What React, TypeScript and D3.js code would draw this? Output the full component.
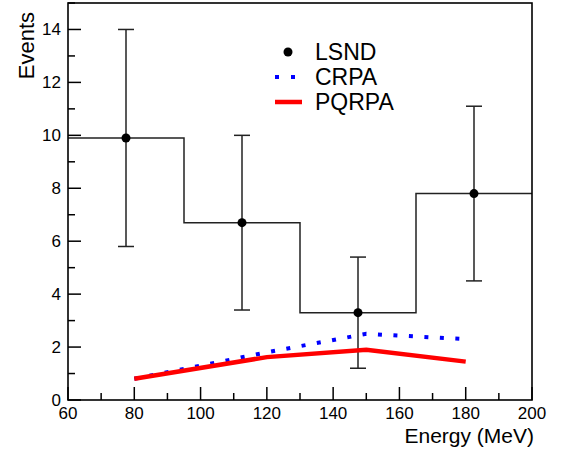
import React, { useEffect, useRef } from "react";
import * as d3 from "d3";

const binEdges = [60, 95, 130, 165, 200];
const lsndCounts = [9.9, 6.7, 3.3, 7.8];
const lsndLow = [5.8, 3.4, 1.2, 4.5];
const lsndHigh = [14, 10, 5.4, 11.1];

const crpaEnergy = [80, 120, 150, 180];
const crpaEvents = [0.8, 1.8, 2.5, 2.3];
const pqrpaEnergy = [80, 120, 150, 180];
const pqrpaEvents = [0.8, 1.62, 1.9, 1.45];

const xTicks = [60, 80, 100, 120, 140, 160, 180, 200];
const yTicks = [0, 2, 4, 6, 8, 10, 12, 14];
const legendLabels = ["LSND", "CRPA", "PQRPA"];

const FONT = "'Liberation Sans', Arial, Helvetica, sans-serif";

export default function App() {
  const svgRef = useRef<SVGSVGElement>(null);
  const width = 570;
  const height = 453;

  useEffect(() => {
    const svg = d3.select(svgRef.current);
    svg.selectAll("*").remove();

    const margin = { top: 3, right: 38, bottom: 53, left: 68 };

    const x = d3
      .scaleLinear()
      .domain([60, 200])
      .range([margin.left, width - margin.right]);
    const y = d3
      .scaleLinear()
      .domain([0, 15])
      .range([height - margin.bottom, margin.top]);

    const x0 = x.range()[0];
    const x1 = x.range()[1];
    const y0 = y.range()[0];
    const y1 = y.range()[1];

    // histogram outline
    const steps: [number, number][] = [];
    lsndCounts.forEach((c, i) => {
      steps.push([binEdges[i], c]);
      steps.push([binEdges[i + 1], c]);
    });
    svg
      .append("path")
      .attr(
        "d",
        d3
          .line<[number, number]>()
          .x((d) => x(d[0]))
          .y((d) => y(d[1]))(steps)
      )
      .attr("fill", "none")
      .attr("stroke", "#222")
      .attr("stroke-width", 1.5);

    // error bars
    const centers = lsndCounts.map((_, i) => (binEdges[i] + binEdges[i + 1]) / 2);
    const eb = svg.append("g").attr("stroke", "#222").attr("stroke-width", 1.5);
    centers.forEach((c, i) => {
      const cx = x(c);
      eb.append("line")
        .attr("x1", cx)
        .attr("x2", cx)
        .attr("y1", y(lsndLow[i]))
        .attr("y2", y(lsndHigh[i]));
      [lsndLow[i], lsndHigh[i]].forEach((v) => {
        eb.append("line")
          .attr("x1", cx - 8)
          .attr("x2", cx + 8)
          .attr("y1", y(v))
          .attr("y2", y(v));
      });
    });
    svg
      .append("g")
      .selectAll("circle")
      .data(centers)
      .join("circle")
      .attr("cx", (d) => x(d))
      .attr("cy", (_, i) => y(lsndCounts[i]))
      .attr("r", 4.5)
      .attr("fill", "#000");

    // model curves
    const crpaPts = crpaEnergy.map((e, i) => [x(e), y(crpaEvents[i])] as [number, number]);
    const pqrpaPts = pqrpaEnergy.map((e, i) => [x(e), y(pqrpaEvents[i])] as [number, number]);

    svg
      .append("path")
      .attr("d", d3.line()(crpaPts))
      .attr("fill", "none")
      .attr("stroke", "#0000ff")
      .attr("stroke-width", 4)
      .attr("stroke-dasharray", "4,11.5");

    svg
      .append("path")
      .attr("d", d3.line()(pqrpaPts))
      .attr("fill", "none")
      .attr("stroke", "#ff0000")
      .attr("stroke-width", 4.5);

    // frame
    svg
      .append("rect")
      .attr("x", x0)
      .attr("y", y1)
      .attr("width", x1 - x0)
      .attr("height", y0 - y1)
      .attr("fill", "none")
      .attr("stroke", "#000")
      .attr("stroke-width", 1.6);

    // ticks
    const tickG = svg.append("g").attr("stroke", "#000").attr("stroke-width", 1.5);
    d3.range(60, 201, 10).forEach((v) => {
      const len = v % 20 === 0 ? 13 : 7;
      tickG
        .append("line")
        .attr("x1", x(v))
        .attr("x2", x(v))
        .attr("y1", y0)
        .attr("y2", y0 - len);
    });
    d3.range(0, 16, 1).forEach((v) => {
      const len = v % 2 === 0 ? 13 : 7;
      tickG
        .append("line")
        .attr("x1", x0)
        .attr("x2", x0 + len)
        .attr("y1", y(v))
        .attr("y2", y(v));
    });

    // tick labels
    svg
      .append("g")
      .selectAll("text")
      .data(xTicks)
      .join("text")
      .attr("x", (d) => x(d))
      .attr("y", y0 + 19)
      .attr("text-anchor", "middle")
      .style("font-family", FONT)
      .style("font-size", "17px")
      .text((d) => d);

    svg
      .append("g")
      .selectAll("text")
      .data(yTicks)
      .join("text")
      .attr("x", x0 - 7)
      .attr("y", (d) => y(d))
      .attr("dy", "0.35em")
      .attr("text-anchor", "end")
      .style("font-family", FONT)
      .style("font-size", "17px")
      .text((d) => d);

    // axis titles
    svg
      .append("text")
      .attr("x", x1 + 2)
      .attr("y", 443)
      .attr("text-anchor", "end")
      .style("font-family", FONT)
      .style("font-size", "21px")
      .text("Energy (MeV)");

    svg
      .append("text")
      .attr("transform", `translate(34,12)rotate(-90)`)
      .attr("text-anchor", "end")
      .style("font-family", FONT)
      .style("font-size", "22px")
      .text("Events");

    // legend
    const lg = svg.append("g");
    const ly = [52, 77, 102];
    lg.append("circle").attr("cx", 288).attr("cy", ly[0]).attr("r", 4.5).attr("fill", "#000");
    lg.append("line")
      .attr("x1", 275)
      .attr("x2", 300)
      .attr("y1", ly[1])
      .attr("y2", ly[1])
      .attr("stroke", "#0000ff")
      .attr("stroke-width", 4)
      .attr("stroke-dasharray", "4,12");
    lg.append("line")
      .attr("x1", 275)
      .attr("x2", 302)
      .attr("y1", ly[2])
      .attr("y2", ly[2])
      .attr("stroke", "#ff0000")
      .attr("stroke-width", 4.5);
    lg.selectAll("text")
      .data(legendLabels)
      .join("text")
      .attr("x", 315)
      .attr("y", (_, i) => ly[i])
      .attr("dy", "0.36em")
      .style("font-family", FONT)
      .style("font-size", "23px")
      .text((d) => d);
  }, []);

  return (
    <svg
      ref={svgRef}
      width={width}
      height={height}
      style={{ position: "absolute", left: 0, top: 0, background: "#fff" }}
    ></svg>
  );
}
